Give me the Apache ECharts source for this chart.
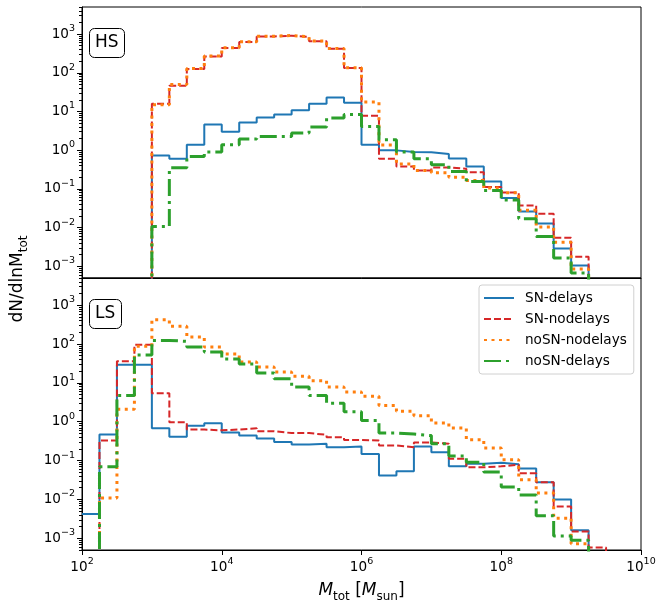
<!DOCTYPE html>
<html>
<head>
<meta charset="utf-8">
<title>dN/dlnMtot</title>
<script src="https://cdn.jsdelivr.net/npm/echarts@6.0.0/dist/echarts.min.js"></script>
<style>
html, body { margin: 0; padding: 0; background: #fff; }
#chartmain { width: 663px; height: 608px; }
</style>
</head>
<body>
<div id="chartmain"></div>
<script>
// histogram bins: 0.25 dex wide, from 1e2 to 1e10 Msun
var binStartLog = 2, binWidthLog = 0.25, binCount = 32;

var seriesNames = ['SN-delays', 'SN-nodelays', 'noSN-nodelays', 'noSN-delays'];

// HS panel, one value per bin (null = empty bin)
var hsSnDelays = [null, null, null, null,
    0.73, 0.60, 1.39, 4.6, 3.0, 5.2, 7.0, 8.4, 10.7, 15.9, 23, 16.9,
    1.39, 0.99, 0.90, 0.89, 0.80, 0.61, 0.38, 0.156, 0.058, 0.026, 0.0127, 0.0029, 0.00105,
    null, null, null];
var hsSnNodelays = [null, null, null, null,
    15.9, 46, 125, 265, 436, 624, 870, 907, 840, 650, 418, 133,
    7.8, 0.60, 0.38, 0.30, 0.36, 0.33, 0.27, 0.112, 0.081, 0.0375, 0.023, 0.0055, 0.00177,
    null, null, null];
var hsNosnNodelays = [null, null, null, null,
    15, 50, 128, 270, 445, 635, 880, 920, 850, 660, 425, 135,
    17.6, 1.36, 0.44, 0.30, 0.26, 0.20, 0.166, 0.105, 0.08, 0.028, 0.0104, 0.0042, 0.00085,
    null, null, null];
var hsNosnDelays = [null, null, null, null,
    0.0107, 0.35, 0.69, 0.90, 1.39, 1.95, 2.27, 2.27, 2.8, 3.97, 6.8, 8.3,
    4.1, 1.87, 0.90, 0.60, 0.42, 0.28, 0.156, 0.091, 0.052, 0.017, 0.0059, 0.00164, 0.00067,
    null, null, null];

// LS panel
var lsSnDelays = [0.0042, 0.47, 29.4, 29.4, 0.68, 0.41, 0.79, 0.91, 0.53, 0.44, 0.37, 0.30, 0.26, 0.27, 0.22, 0.23,
    0.148, 0.0416, 0.053, 0.232, 0.163, 0.071, 0.083, 0.088, 0.080, 0.063, 0.0275, 0.0099, 0.0016,
    null, null, null];
var lsSnNodelays = [null, 0.33, 35.9, 96, 5.4, 0.97, 0.63, 0.60, 0.63, 0.68, 0.57, 0.51, 0.51, 0.46, 0.40, 0.34,
    0.33, 0.246, 0.219, 0.294, 0.27, 0.112, 0.067, 0.071, 0.078, 0.047, 0.0275, 0.0066, 0.0015, 0.00058,
    null, null];
var lsNosnNodelays = [null, 0.0109, 2.1, 88, 424, 285, 152, 84, 55, 34.5, 25.7, 19, 14.7, 11.4, 7.8, 5.8,
    4.5, 2.6, 1.85, 1.43, 0.93, 0.69, 0.345, 0.21, 0.105, 0.032, 0.0147, 0.0033, 0.00072,
    null, null, null];
var lsNosnDelays = [null, 0.069, 4.7, 52, 124, 117, 84, 62, 41, 30.6, 18, 12.8, 7.8, 4.7, 3.0, 1.8,
    1.07, 0.51, 0.48, 0.44, 0.27, 0.131, 0.09, 0.051, 0.021, 0.013, 0.0038, 0.00115, 0.00089,
    null, null, null];

var xTicks = [1e2, 1e4, 1e6, 1e8, 1e10];
var yTicks = [1e-3, 1e-2, 1e-1, 1e0, 1e1, 1e2, 1e3];

var FONT = 'DejaVu Sans';
var Y_MIN = 5e-4, Y_MAX = 5e3;
var FLOOR = 1e-9; // empty bins drop below the axis like matplotlib's step outline

var edges = [];
for (var i = 0; i <= binCount; i++) edges.push(Math.pow(10, binStartLog + binWidthLog * i));

var yMinorTicks = [];
for (var e = -4; e <= 3; e++) {
    for (var m = 2; m <= 9; m++) {
        var v = m * Math.pow(10, e);
        if (v >= Y_MIN * 0.999 && v <= Y_MAX * 1.001) yMinorTicks.push(v);
    }
}

function stepData(vals) {
    var out = [];
    for (var k = 0; k < binCount; k++) {
        out.push([edges[k], vals[k] == null ? FLOOR : vals[k]]);
    }
    out.push([edges[binCount], FLOOR]);
    return out;
}

function powLabel(v) {
    var p = Math.round(Math.log10(v));
    return '10{sup|' + (p < 0 ? '\u2212' + (-p) : p) + '}';
}

var labelRich = {
    sup: { fontSize: 9.5, lineHeight: 11, verticalAlign: 'top', fontFamily: FONT, color: '#000' }
};

var styles = [
    { color: '#1f77b4', width: 2, type: 'solid' },
    { color: '#d62728', width: 2, type: [7, 3] },
    { color: '#ff7f0e', width: 3, type: [3, 4.5] },
    { color: '#2ca02c', width: 3, type: [17, 5, 3, 5] }
];

var panels = [
    [hsSnDelays, hsSnNodelays, hsNosnNodelays, hsNosnDelays],
    [lsSnDelays, lsSnNodelays, lsNosnNodelays, lsNosnDelays]
];

function yMajor(g) {
    return {
        type: 'log', gridIndex: g, min: Y_MIN, max: Y_MAX, position: 'left',
        axisLine: { show: true, lineStyle: { color: '#000', width: 1 } },
        axisTick: { show: true, length: 5, customValues: yTicks, lineStyle: { color: '#000', width: 1 } },
        axisLabel: {
            show: true, customValues: yTicks, formatter: powLabel, margin: 7,
            fontSize: 13.6, lineHeight: 21, color: '#000', fontFamily: FONT, rich: labelRich
        },
        splitLine: { show: false }
    };
}
function yMinor(g) {
    return {
        type: 'log', gridIndex: g, min: Y_MIN, max: Y_MAX, position: 'left',
        axisLine: { show: false },
        axisTick: { show: true, length: 3, customValues: yMinorTicks, lineStyle: { color: '#000', width: 1 } },
        axisLabel: { show: false },
        splitLine: { show: false }
    };
}

var series = [];
panels.forEach(function (sets, p) {
    sets.forEach(function (vals, s) {
        series.push({
            name: seriesNames[s],
            type: 'line',
            step: 'end',
            xAxisIndex: p,
            yAxisIndex: p * 2,
            symbol: 'none',
            data: stepData(vals),
            lineStyle: { color: styles[s].color, width: styles[s].width, type: styles[s].type, cap: 'butt' },
            itemStyle: { color: styles[s].color },
            z: 2 + s
        });
    });
});

var boxLabel = function (text, top) {
    return {
        text: text, left: 89, top: top, padding: [5, 6],
        borderColor: '#000', borderWidth: 1, borderRadius: 5, backgroundColor: '#fff',
        textStyle: { fontSize: 17, fontWeight: 'normal', color: '#000', fontFamily: FONT, lineHeight: 20 }
    };
};

var option = {
    animation: false,
    backgroundColor: '#fff',
    title: [boxLabel('HS', 28), boxLabel('LS', 299)],
    legend: {
        data: seriesNames, orient: 'vertical', left: 479, top: 285,
        padding: [6, 7, 6, 4], itemWidth: 30, itemHeight: 14, itemGap: 7,
        borderColor: '#d0d0d0', borderWidth: 1, borderRadius: 3,
        backgroundColor: 'rgba(255,255,255,0.8)',
        selectedMode: false,
        // line only, no marker in the legend keys
        itemStyle: { opacity: 0 },
        textStyle: { fontSize: 13.6, fontFamily: FONT, color: '#000', lineHeight: 14, padding: [0, 0, 0, 6] }
    },
    grid: [
        { left: 82, right: 22, top: 7, height: 271, show: true, borderColor: '#000', borderWidth: 1, backgroundColor: 'transparent', outerBoundsMode: 'none' },
        { left: 82, right: 22, top: 278, height: 272, show: true, borderColor: '#000', borderWidth: 1, backgroundColor: 'transparent', outerBoundsMode: 'none' }
    ],
    xAxis: [
        {
            type: 'log', gridIndex: 0, min: 1e2, max: 1e10,
            axisLine: { show: true, lineStyle: { color: '#000', width: 1 } },
            axisTick: { show: false }, axisLabel: { show: false }, splitLine: { show: false }
        },
        {
            type: 'log', gridIndex: 1, min: 1e2, max: 1e10,
            axisLine: { show: true, lineStyle: { color: '#000', width: 1 } },
            axisTick: { show: true, length: 5, customValues: xTicks, lineStyle: { color: '#000', width: 1 } },
            axisLabel: {
                show: true, customValues: xTicks, formatter: powLabel, margin: 7,
                fontSize: 13.6, lineHeight: 21, color: '#000', fontFamily: FONT, rich: labelRich
            },
            splitLine: { show: false },
            name: '{it|M}{sub|tot} [{it|M}{sub|sun}]',
            nameLocation: 'middle', nameGap: 25,
            nameTextStyle: {
                fontSize: 17, lineHeight: 24, color: '#000', fontFamily: FONT,
                rich: {
                    it: { fontSize: 17, lineHeight: 24, fontStyle: 'italic', fontFamily: FONT, color: '#000' },
                    sub: { fontSize: 12, lineHeight: 13, verticalAlign: 'bottom', fontFamily: FONT, color: '#000' }
                }
            }
        }
    ],
    yAxis: [yMajor(0), yMinor(0), yMajor(1), yMinor(1)],
    graphic: [{
        type: 'text', x: 18, y: 279, rotation: Math.PI / 2,
        style: {
            text: 'dN/dlnM{sub|tot}', fontSize: 17, fontFamily: FONT, fill: '#000',
            align: 'center', verticalAlign: 'middle', lineHeight: 24,
            rich: { sub: { fontSize: 12, lineHeight: 13, verticalAlign: 'bottom', fontFamily: FONT, fill: '#000' } }
        }
    }],
    series: series
};

var myChart = echarts.init(document.getElementById('chartmain'));
myChart.setOption(option);
</script>
</body>
</html>
